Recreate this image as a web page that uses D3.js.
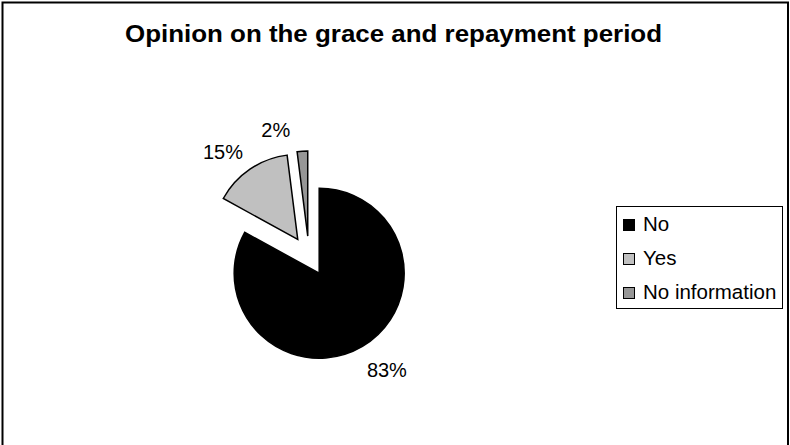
<!DOCTYPE html>
<html>
<head>
<meta charset="utf-8">
<script src="https://cdn.jsdelivr.net/npm/d3@7"></script>
<style>
  html, body { margin: 0; padding: 0; background: #fff; }
  svg { display: block; }
  text { font-family: "Liberation Sans", Arial, sans-serif; fill: #000; }
</style>
</head>
<body>
<svg id="chart" width="790" height="445"></svg>
<script>
// Survey answers: opinion on the grace and repayment period
const categories = ["No", "Yes", "No information"];
const shares = [83, 15, 2];
const labels = ["83%", "15%", "2%"];
const colors = ["#000000", "#c0c0c0", "#969696"];
const title = "Opinion on the grace and repayment period";

const W = 790, H = 445;
const svg = d3.select("#chart");

// outer chart frame
svg.append("rect")
  .attr("x", 2.5).attr("y", 2.5)
  .attr("width", 785.5).attr("height", H + 10)
  .attr("fill", "#fff").attr("stroke", "#000").attr("stroke-width", 2);

// title
svg.append("text")
  .attr("x", 125).attr("y", 42)
  .attr("font-size", 23).attr("font-weight", "bold")
  .attr("textLength", 537).attr("lengthAdjust", "spacingAndGlyphs")
  .text(title);

// pie layout
const cx = 309, cy = 256, radius = 85, explode = 20, labelGap = 17;
const data = categories.map((c, i) => ({ cat: c, value: shares[i], label: labels[i], color: colors[i] }));

const pie = d3.pie().sort(null).value(d => d.value).startAngle(0).endAngle(2 * Math.PI);
const arc = d3.arc().innerRadius(0).outerRadius(radius);
const arcs = pie(data);

const g = svg.append("g").attr("transform", `translate(${cx},${cy})`);

const dirOf = a => {
  const m = (a.startAngle + a.endAngle) / 2;
  return [Math.sin(m), -Math.cos(m)];
};

g.selectAll("path.slice")
  .data(arcs)
  .join("path")
  .attr("class", "slice")
  .attr("d", arc)
  .attr("transform", a => {
    const [dx, dy] = dirOf(a);
    return `translate(${dx * explode},${dy * explode})`;
  })
  .attr("fill", a => a.data.color)
  .attr("stroke", "#000")
  .attr("stroke-width", 1.5)
  .attr("stroke-linejoin", "miter");

// percentage labels placed just outside each exploded slice
const fontSize = 20;
const labelSel = g.selectAll("text.pct")
  .data(arcs)
  .join("text")
  .attr("class", "pct")
  .attr("font-size", fontSize)
  .attr("text-anchor", "middle")
  .text(a => a.data.label);

labelSel.each(function (a) {
  const w = this.getComputedTextLength();
  const h = fontSize * 0.72;
  const [dx, dy] = dirOf(a);
  const rr = radius + explode + labelGap;
  let x = dx * (rr + w / 2 + 11);
  let y = dy * rr + dy * h / 2 + 3;
  // very thin slices: keep the label clear of its wider neighbour's edge
  if (a.endAngle - a.startAngle < 0.2) x -= 24;
  d3.select(this).attr("x", x).attr("y", y + h / 2);
});

// legend
const lg = svg.append("g");
lg.append("rect")
  .attr("x", 616.5).attr("y", 206.5)
  .attr("width", 166).attr("height", 102)
  .attr("fill", "#fff").attr("stroke", "#000").attr("stroke-width", 1);

const rowY = d3.scalePoint().domain(categories).range([231, 299]);

const rows = lg.selectAll("g.row").data(data).join("g").attr("class", "row");
rows.append("rect")
  .attr("x", 623.5)
  .attr("y", d => rowY(d.cat) - 11.5)
  .attr("width", 11).attr("height", 11)
  .attr("fill", d => d.color)
  .attr("stroke", "#000").attr("stroke-width", 1);
rows.append("text")
  .attr("x", 643)
  .attr("y", d => rowY(d.cat))
  .attr("font-size", 20.5)
  .text(d => d.cat);
</script>
</body>
</html>
